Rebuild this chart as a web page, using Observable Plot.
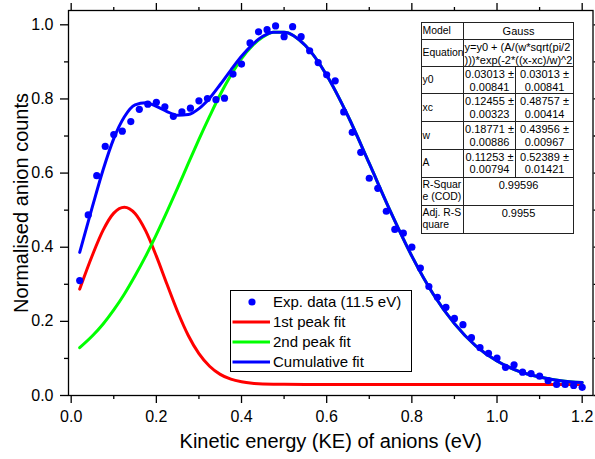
<!DOCTYPE html>
<html><head><meta charset="utf-8">
<script src="https://cdn.jsdelivr.net/npm/d3@7"></script>
<script src="https://cdn.jsdelivr.net/npm/@observablehq/plot@0.6"></script>
<style>
html,body{margin:0;padding:0;background:#fff;}
#wrap{position:relative;width:595px;height:459px;font-family:"Liberation Sans",Arial,sans-serif;color:#000;}
#legend{position:absolute;left:230px;top:290px;width:182px;height:82px;border:1px solid #000;background:#fff;box-sizing:border-box;}
#legend .row{position:absolute;left:0;height:20px;width:180px;}
#legend svg{position:absolute;left:1px;top:0;}
#legend span{position:absolute;left:42px;top:0;line-height:20px;font-size:15px;white-space:nowrap;}
#tbl{position:absolute;left:421px;top:21.5px;border-collapse:collapse;table-layout:fixed;width:152px;font-size:11px;line-height:12.5px;background:#fff;}
#tbl td{border:1px solid #222;padding:1px 1px 0 1px;overflow:hidden;white-space:nowrap;vertical-align:top;}
#tbl td.lab{vertical-align:middle;text-align:left;font-size:10.4px;padding-left:0.5px;padding-right:0;}
#tbl td.v{text-align:center;}
#tbl td.eq{text-align:left;padding-left:0.5px;padding-right:0;}
</style>
</head><body>
<div id="wrap"></div>
<script>
// Axis ticks
const xMajor = [0, 0.2, 0.4, 0.6, 0.8, 1.0, 1.2];
const xMinor = [0.1, 0.3, 0.5, 0.7, 0.9, 1.1];
const yMajor = [0, 0.2, 0.4, 0.6, 0.8, 1.0];
const yMinor = [0.1, 0.3, 0.5, 0.7, 0.9];

// Experimental data (11.5 eV)
const expX = [0.02,0.04,0.06,0.08,0.10,0.12,0.14,0.16,0.18,0.20,0.22,0.24,0.26,0.28,0.30,0.32,0.34,0.36,0.38,0.40,
  0.42,0.44,0.46,0.48,0.50,0.52,0.54,0.56,0.58,0.60,0.62,0.64,0.66,0.68,0.70,0.72,0.74,0.76,0.78,0.80,
  0.82,0.84,0.86,0.88,0.90,0.92,0.94,0.96,0.98,1.00,1.02,1.04,1.06,1.08,1.10,1.12,1.14,1.16,1.18,1.20];
const expY = [0.310,0.487,0.593,0.672,0.704,0.713,0.739,0.772,0.786,0.791,0.779,0.753,0.765,0.775,0.795,0.801,0.798,0.802,0.867,0.894,
  0.951,0.981,0.987,0.997,0.968,0.995,0.968,0.930,0.898,0.865,0.849,0.765,0.710,0.656,0.586,0.559,0.497,0.448,0.438,0.400,
  0.344,0.294,0.265,0.238,0.208,0.191,0.156,0.129,0.114,0.101,0.076,0.083,0.063,0.059,0.052,0.040,0.030,0.030,0.027,0.022];

// Fit curves
const fitX = [0.02,0.05,0.075,0.10,0.125,0.15,0.175,0.20,0.225,0.25,0.275,0.30,0.325,0.35,0.375,0.40,0.425,0.45,0.475,0.50,
  0.55,0.60,0.65,0.70,0.75,0.80,0.85,0.90,0.95,1.00,1.05,1.10,1.15,1.20];
const peak1 = [0.287,0.379,0.446,0.492,0.508,0.491,0.444,0.376,0.300,0.226,0.162,0.113,0.079,0.057,0.044,0.037,0.033,0.031,0.0305,0.0304,
  0.030,0.030,0.030,0.030,0.030,0.030,0.030,0.030,0.030,0.030,0.030,0.030,0.030,0.030];
const peak2 = [0.129,0.161,0.193,0.231,0.274,0.323,0.376,0.434,0.496,0.560,0.626,0.691,0.753,0.812,0.864,0.909,0.943,0.967,0.980,0.980,
  0.944,0.864,0.754,0.626,0.496,0.376,0.274,0.194,0.134,0.093,0.066,0.050,0.040,0.035];
const cumulative = [0.386,0.510,0.609,0.693,0.752,0.784,0.790,0.780,0.766,0.756,0.758,0.774,0.802,0.839,0.878,0.915,0.946,0.969,0.980,0.980,
  0.944,0.864,0.754,0.626,0.496,0.376,0.274,0.194,0.134,0.093,0.066,0.050,0.040,0.035];

const xTitle = "Kinetic energy (KE) of anions (eV)";
const yTitle = "Normalised anion counts";

const legendItems = [
  {label: "Exp. data (11.5 eV)", color: "#0000ff", kind: "dot"},
  {label: "1st peak fit", color: "#ff0000", kind: "line"},
  {label: "2nd peak fit", color: "#00ff00", kind: "line"},
  {label: "Cumulative fit", color: "#0000ff", kind: "line"}
];

const tableRows = [
  ["Model", "Gauss"],
  ["Equation", "y=y0 + (A/(w*sqrt(pi/2", ")))*exp(-2*((x-xc)/w)^2"],
  ["y0", "0.03013 ±", "0.00841", "0.03013 ±", "0.00841"],
  ["xc", "0.12455 ±", "0.00323", "0.48757 ±", "0.00414"],
  ["w", "0.18771 ±", "0.00886", "0.43956 ±", "0.00967"],
  ["A", "0.11253 ±", "0.00794", "0.52389 ±", "0.01421"],
  ["R-Squar", "e (COD)", "0.99596"],
  ["Adj. R-S", "quare", "0.9955"]
];

const exp = expX.map((x, i) => ({x, y: expY[i]}));
const mk = arr => fitX.map((x, i) => ({x, y: arr[i]}));

const font = "'Liberation Sans', Arial, sans-serif";
const chart = Plot.plot({
  width: 595, height: 459,
  marginLeft: 68, marginRight: 2.5, marginTop: 10, marginBottom: 64,
  x: {domain: [-0.0063, 1.2254]},
  y: {domain: [0, 1.0386]},
  style: {fontFamily: font, fontSize: "16px", color: "#000", background: "#fff", overflow: "visible"},
  marks: [
    Plot.axisX(xMajor, {anchor: "bottom", tickSize: 8, tickPadding: 7, tickFormat: d3.format(".1f"), label: null, strokeWidth: 1.3}),
    Plot.axisX(xMinor, {anchor: "bottom", tickSize: 4, fill: "none", label: null, strokeWidth: 1.3}),
    Plot.axisX(xMajor, {anchor: "top", tickSize: 8, fill: "none", label: null, strokeWidth: 1.3}),
    Plot.axisX(xMinor, {anchor: "top", tickSize: 4, fill: "none", label: null, strokeWidth: 1.3}),
    Plot.axisY(yMajor, {anchor: "left", tickSize: 8, tickPadding: 7, tickFormat: d3.format(".1f"), label: null, strokeWidth: 1.3}),
    Plot.axisY(yMinor, {anchor: "left", tickSize: 4, fill: "none", label: null, strokeWidth: 1.3}),
    Plot.axisY(yMajor, {anchor: "right", tickSize: 8, fill: "none", label: null, strokeWidth: 1.3}),
    Plot.axisY(yMinor, {anchor: "right", tickSize: 4, fill: "none", label: null, strokeWidth: 1.3}),
    Plot.frame({strokeWidth: 1.3}),
    Plot.line(mk(peak1), {x: "x", y: "y", stroke: "#ff0000", strokeWidth: 3, curve: "monotone-x"}),
    Plot.line(mk(peak2), {x: "x", y: "y", stroke: "#00ff00", strokeWidth: 3, curve: "monotone-x"}),
    Plot.line(mk(cumulative), {x: "x", y: "y", stroke: "#0000ff", strokeWidth: 3, curve: "monotone-x"}),
    Plot.dot(exp, {x: "x", y: "y", r: 3.6, fill: "#0000ff", stroke: "none"}),
    Plot.text([xTitle], {text: d => d, frameAnchor: "bottom", lineAnchor: "middle", textAnchor: "middle", dy: 46, fontSize: 20}),
    Plot.text([yTitle], {text: d => d, frameAnchor: "left", lineAnchor: "middle", textAnchor: "middle", rotate: -90, dx: -47, fontSize: 20})
  ]
});

const wrap = document.getElementById("wrap");
wrap.appendChild(chart);

// Legend
const leg = document.createElement("div");
leg.id = "legend";
legendItems.forEach((it, i) => {
  const row = document.createElement("div");
  row.className = "row";
  row.style.top = (0.7 + 20 * i) + "px";
  const sw = it.kind === "dot"
    ? `<svg width="40" height="20"><circle cx="20" cy="10" r="3.6" fill="${it.color}"/></svg>`
    : `<svg width="40" height="20"><line x1="0.5" y1="10" x2="38" y2="10" stroke="${it.color}" stroke-width="3"/></svg>`;
  row.innerHTML = sw + `<span>${it.label}</span>`;
  leg.appendChild(row);
});
wrap.appendChild(leg);

// Parameter table
const tbl = document.createElement("table");
tbl.id = "tbl";
const heights = [17.5, 27, 27, 28, 27.5, 28, 28, 28];
let html = `<colgroup><col style="width:42px"><col style="width:52px"><col style="width:58px"></colgroup>`;
tableRows.forEach((r, i) => {
  html += `<tr style="height:${heights[i]}px">`;
  if (i === 0) {
    html += `<td class="lab">${r[0]}</td><td colspan="2" class="v" style="vertical-align:middle">${r[1]}</td>`;
  } else if (i === 1) {
    html += `<td class="lab">${r[0]}</td><td colspan="2" class="eq">${r[1]}<br>${r[2]}</td>`;
  } else if (i >= 2 && i <= 5) {
    html += `<td class="lab">${r[0]}</td><td class="v">${r[1]}<br>${r[2]}</td><td class="v">${r[3]}<br>${r[4]}</td>`;
  } else {
    html += `<td class="lab" style="vertical-align:top">${r[0]}<br>${r[1]}</td><td colspan="2" class="v">${r[2]}</td>`;
  }
  html += `</tr>`;
});
tbl.innerHTML = html;
wrap.appendChild(tbl);
</script>
</body></html>
